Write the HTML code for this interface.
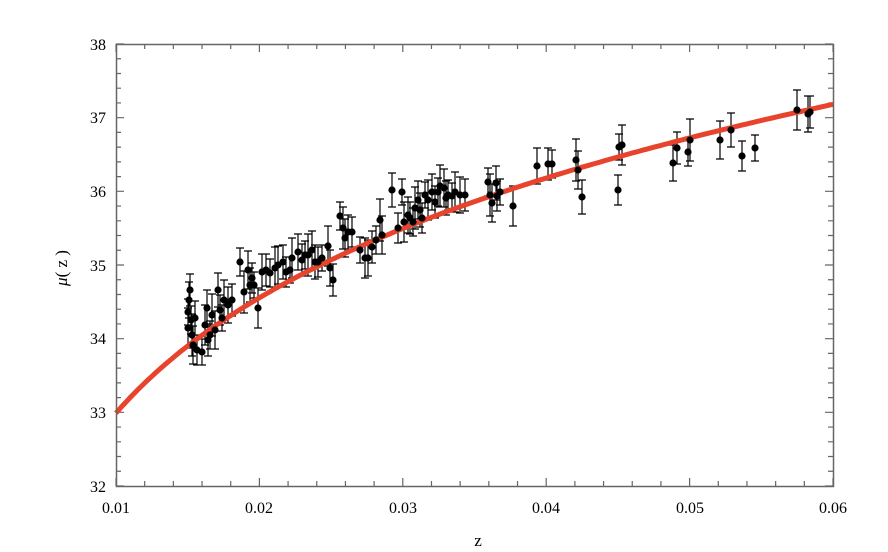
<!DOCTYPE html>
<html><head><meta charset="utf-8"><style>
body{margin:0;background:#fff;}
svg{display:block;font-family:"Liberation Serif",serif;}
</style></head><body>
<svg id="s" width="888" height="552" viewBox="0 0 888 552" xmlns="http://www.w3.org/2000/svg">
<rect x="0" y="0" width="888" height="552" fill="#fff"/>
<g id="ticks" stroke="#666" stroke-width="1.2" fill="none"></g>
<g id="err" stroke="#000" stroke-width="1.2" fill="none"></g>
<path id="curve" fill="none" stroke="#e8432c" stroke-width="5"/>
<g id="pts" fill="#000"></g>
<rect x="116.5" y="44.5" width="717" height="442" fill="none" stroke="#666" stroke-width="1.5"/>
<g font-size="16" fill="#000" text-anchor="middle">
<text x="116" y="513">0.01</text><text x="259" y="513">0.02</text><text x="403" y="513">0.03</text>
<text x="546" y="513">0.04</text><text x="690" y="513">0.05</text><text x="833" y="513">0.06</text>
</g>
<g font-size="16" fill="#000" text-anchor="end">
<text x="106" y="50">38</text><text x="106" y="123">37</text><text x="106" y="197">36</text>
<text x="106" y="271">35</text><text x="106" y="344">34</text><text x="106" y="418">33</text>
<text x="106" y="492">32</text>
</g>
<text x="478" y="546" font-size="17" text-anchor="middle">z</text>
<text transform="translate(67,268) rotate(-90)" font-size="17" text-anchor="middle"><tspan font-style="italic">μ</tspan>( z )</text>
</svg>
<script>
var X=function(z){return 116+(z-0.01)*717/0.05;};
var Y=function(m){return 486-(m-32)*442/6;};
var ns="http://www.w3.org/2000/svg";
var d="";
for(var i=0;i<=25;i++){var z=0.01+i*0.002,x=X(z),L=(i%5==0)?8:5;
d+="M"+x+",486V"+(486-L)+"M"+x+",44V"+(44+L);}
for(var i=0;i<=30;i++){var m=32+i*0.2,y=Y(m),L=(i%5==0)?8:5;
d+="M116,"+y+"H"+(116+L)+"M833,"+y+"H"+(833-L);}
var t=document.createElementNS(ns,"path");t.setAttribute("d",d);document.getElementById("ticks").appendChild(t);
var c="";
for(var i=0;i<=200;i++){var z=0.01+i*0.05/200;var m=5*Math.log10(z)+42.93+6*z;c+=(i?"L":"M")+X(z).toFixed(1)+","+Y(m).toFixed(1);}
document.getElementById("curve").setAttribute("d",c);
var P=[[188,312],[188,328],[189,300],[190,290],[191,320],[192,335],[193,345],[195,318],[197,350],[202,352],[205,325],[207,308],[208,340],[210,335],[212,315],[215,330],[218,290],[220,310],[222,318],[224,300],[228,305],[232,300],[240,262],[244,292],[248,270],[250,285],[252,278],[254,285],[258,308],[262,272],[266,270],[270,273],[275,268],[278,265],[283,262],[286,272],[290,270],[292,258],[298,252],[302,260],[305,255],[308,255],[312,250],[315,262],[318,262],[322,258],[328,246],[330,268],[333,280],[340,216],[343,228],[345,238],[348,232],[352,232],[360,250],[365,258],[368,258],[372,247],[376,240],[380,220],[382,235],[392,190],[398,228],[402,192],[404,222],[408,215],[410,218],[413,222],[415,208],[418,200],[420,210],[422,218],[425,195],[428,200],[432,192],[435,202],[438,192],[440,186],[444,188],[446,198],[448,195],[452,196],[455,192],[460,195],[465,195],[488,182],[490,195],[492,203],[496,183],[497,196],[500,192],[513,206],[537,166],[548,164],[552,164],[576,160],[578,170],[582,197],[618,190],[619,147],[622,145],[673,163],[677,148],[688,152],[690,140],[720,140],[731,130],[742,156],[755,148],[797,110],[808,114],[810,112]];
var e="",g=document.getElementById("pts");
P.forEach(function(p,k){var h=13+((k*7)%9);
e+="M"+p[0]+","+(p[1]-h)+"V"+(p[1]+h)+"M"+(p[0]-4)+","+(p[1]-h)+"H"+(p[0]+4)+"M"+(p[0]-4)+","+(p[1]+h)+"H"+(p[0]+4);
var ci=document.createElementNS(ns,"circle");ci.setAttribute("cx",p[0]);ci.setAttribute("cy",p[1]);ci.setAttribute("r",3.6);g.appendChild(ci);});
var ep=document.createElementNS(ns,"path");ep.setAttribute("d",e);document.getElementById("err").appendChild(ep);
</script>
</body></html>
